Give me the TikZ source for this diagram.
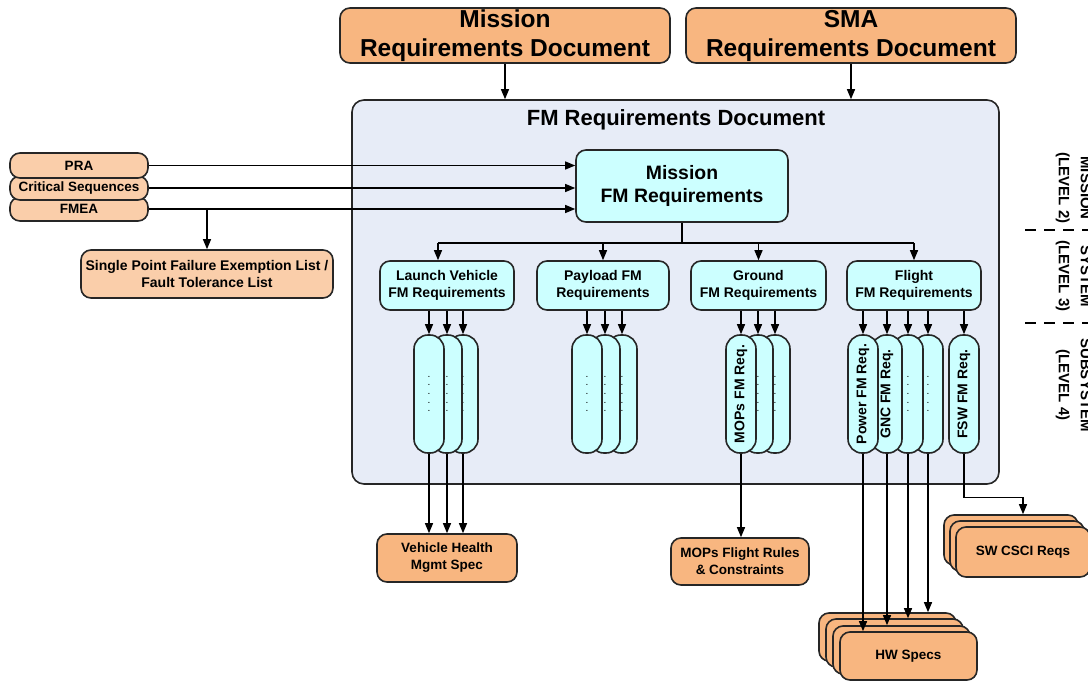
\documentclass[tikz,border=0pt]{standalone}
\usepackage{fontspec}
\usepackage{graphicx}
\setmainfont{Liberation Sans}
\usetikzlibrary{arrows.meta}

\definecolor{docorange}{RGB}{248,182,128}
\definecolor{srcpeach}{RGB}{250,206,170}
\definecolor{reqcyan}{RGB}{204,255,255}
\definecolor{fmgray}{RGB}{231,236,247}

\begin{document}
\begin{tikzpicture}[x=1pt, y=-1pt,
    box/.style={draw=black!85, line width=1.6pt, rounded corners=10pt, inner sep=0pt, align=center,
      font=\bfseries\fontsize{13.5}{17}\selectfont},
    doc/.style={box, fill=docorange},
    src/.style={box, fill=srcpeach},
    req/.style={box, fill=reqcyan},
    sub/.style={req, minimum height=49pt, font=\bfseries\fontsize{14}{16.5}\selectfont},
    pill/.style={box, fill=reqcyan, rounded corners=14pt, minimum width=30pt, minimum height=118pt,
      font=\bfseries\fontsize{14}{17}\selectfont},
    dots/.style={pill, font=\fontsize{10}{8.7}\selectfont},
    wire/.style={line width=1.3pt},
    arr/.style={wire, -{Triangle[length=10pt, width=8pt]}},
    lvl/.style={rotate=-90, align=center, font=\bfseries\fontsize{15}{22}\selectfont}]
  \useasboundingbox (0,0) rectangle (1088,681);

  \node[doc, minimum width=330pt, minimum height=55pt, font=\bfseries\fontsize{24.5}{29}\selectfont]
    (mrd) at (505,35.5) {Mission\\Requirements Document};
  \node[doc, minimum width=330pt, minimum height=55pt, font=\bfseries\fontsize{24.5}{29}\selectfont]
    (smard) at (851,35.5) {SMA\\Requirements Document};

  \node[box, fill=fmgray, rounded corners=12pt, minimum width=647pt, minimum height=384pt] (fmrd) at (675.5,292) {};
  \node[font=\bfseries\fontsize{22}{25}\selectfont] (fmtitle) at (676,120) {FM Requirements Document};
  \draw[arr] (mrd.south) -- (mrd.south |- fmrd.north);
  \draw[arr] (smard.south) -- (smard.south |- fmrd.north);

  \node[req, minimum width=212pt, minimum height=72pt, font=\bfseries\fontsize{19.4}{23}\selectfont]
    (msnfm) at (682,186) {Mission\\FM Requirements};

  \node[src, minimum width=138pt, minimum height=24pt] (fmea) at (79,209) {FMEA};
  \node[src, minimum width=138pt, minimum height=24pt] (crit) at (79,188) {Critical Sequences};
  \node[src, minimum width=138pt, minimum height=25pt] (pra) at (79,165.5) {PRA};
  \foreach \s in {pra,crit,fmea}
    \draw[arr] (\s.east) -- (\s.east -| msnfm.west);

  \node[src, minimum width=252pt, minimum height=48pt, font=\bfseries\fontsize{14}{17}\selectfont]
    (spf) at (207,274) {Single Point Failure Exemption List /\\Fault Tolerance List};
  \draw[arr] (fmea.east -| spf.north) -- (spf.north);

  \node[sub, minimum width=134pt] (lvfm) at (447,285.5) {Launch Vehicle\\FM Requirements};
  \node[sub, minimum width=132pt] (plfm) at (603,285.5) {Payload FM\\Requirements};
  \node[sub, minimum width=135pt] (gdfm) at (758.5,285.5) {Ground\\FM Requirements};
  \node[sub, minimum width=134pt] (flfm) at (914,285.5) {Flight\\FM Requirements};

  \coordinate (busL) at (438,243);
  \draw[wire] (msnfm.south) -- (msnfm.south |- busL);
  \draw[wire] (busL) -- (busL -| flfm.north);
  \draw[arr] (busL) -- (busL |- lvfm.north);
  \foreach \s in {plfm,gdfm,flfm}
    \draw[arr] (\s.north |- busL) -- (\s.north);

  \foreach \n/\x in {lv3/463, lv2/447, lv1/429, pl3/622, pl2/605, pl1/587, gd3/775, gd2/758, fl4/928, fl3/908}
    \node[dots] (\n) at (\x,394) {.\\.\\.\\.\\.};
  \node[pill] (gd1) at (741,394) {\rotatebox{90}{MOPs FM Req.}};
  \node[pill] (fl2) at (887,394) {\rotatebox{90}{GNC FM Req.}};
  \node[pill] (fl1) at (863,394) {\rotatebox{90}{Power FM Req.}};
  \node[pill] (fl5) at (964,394) {\rotatebox{90}{FSW FM Req.}};

  \foreach \p/\b in {lv1/lvfm, lv2/lvfm, lv3/lvfm, pl1/plfm, pl2/plfm, pl3/plfm, gd1/gdfm, gd2/gdfm, gd3/gdfm,
      fl1/flfm, fl2/flfm, fl3/flfm, fl4/flfm, fl5/flfm}
    \draw[arr] (\p.north |- \b.south) -- (\p.north);

  \node[doc, minimum width=140pt, minimum height=48pt] (vhm) at (447,558) {Vehicle Health\\Mgmt Spec};
  \node[doc, minimum width=138pt, minimum height=47pt] (mops) at (740,561.5) {MOPs Flight Rules\\\& Constraints};

  \node[doc, minimum width=137pt, minimum height=48pt] (hw4) at (887.5,637) {};
  \node[doc, minimum width=137pt, minimum height=48pt] (hw3) at (894.5,643) {};
  \node[doc, minimum width=137pt, minimum height=48pt] (hw2) at (901.5,650) {};
  \node[doc, minimum width=137pt, minimum height=48pt] (hw1) at (908.5,656) {HW Specs};

  \node[doc, minimum width=134pt, minimum height=50pt] (sw3) at (1011,540) {};
  \node[doc, minimum width=134pt, minimum height=50pt] (sw2) at (1017,546) {};
  \node[doc, minimum width=134pt, minimum height=50pt] (sw1) at (1023,552) {SW CSCI Reqs};

  \foreach \p in {lv1,lv2,lv3}
    \draw[arr] (\p.south) -- (\p.south |- vhm.north);
  \draw[arr] (gd1.south) -- (gd1.south |- mops.north);
  \foreach \p/\h in {fl1/hw1, fl2/hw2, fl3/hw3, fl4/hw4}
    \draw[arr] (\p.south) -- (\p.south |- \h.north);
  \draw[arr] (fl5.south) -- ++(0,44) -| (sw1.north |- sw3.north);

  \node[lvl] (lvl2) at (1073.5,188) {MISSION\\(LEVEL 2)};
  \node[lvl] (lvl3) at (1073.5,276) {SYSTEM\\(LEVEL 3)};
  \node[lvl] (lvl4) at (1073.5,385) {SUBSYSTEM\\(LEVEL 4)};
  \draw[line width=1.5pt, dash pattern=on 11pt off 8pt] (1025,230) -- (1088,230);
  \draw[line width=1.5pt, dash pattern=on 11pt off 8pt] (1025,323) -- (1088,323);
\end{tikzpicture}
\end{document}
